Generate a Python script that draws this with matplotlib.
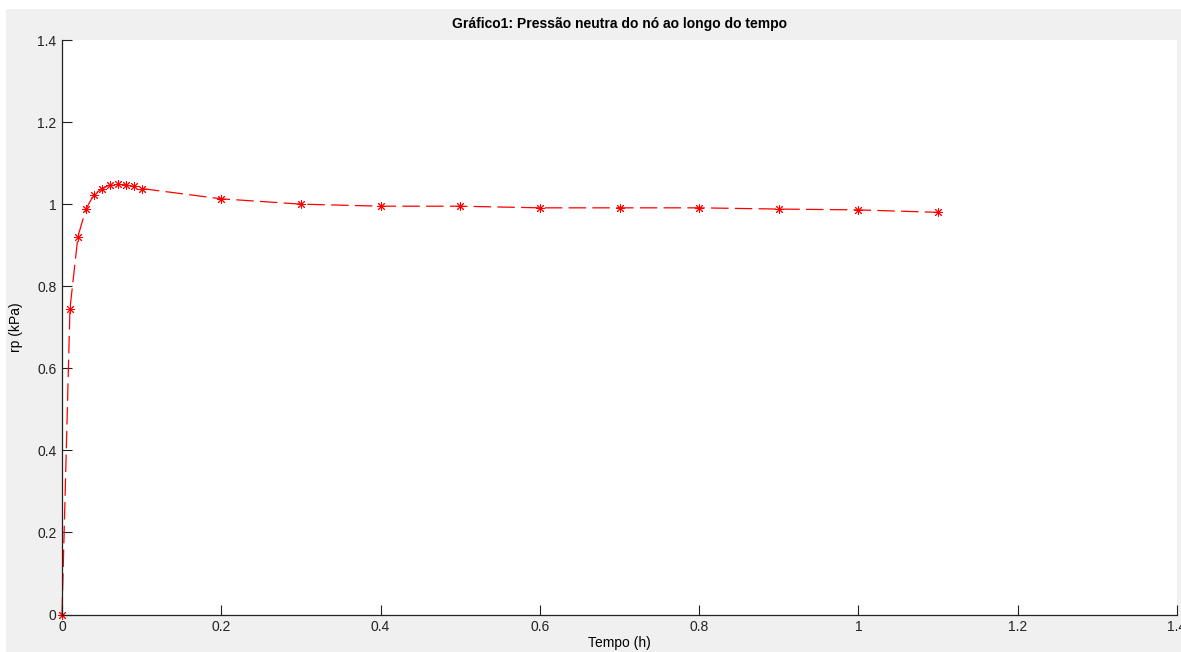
import matplotlib
matplotlib.use('Agg')
import matplotlib.pyplot as plt
from matplotlib.patches import Rectangle
from matplotlib.ticker import FuncFormatter

# valores
tempo = [0, 0.01, 0.02, 0.03, 0.04, 0.05, 0.06, 0.07, 0.08, 0.09, 0.1,
         0.2, 0.3, 0.4, 0.5, 0.6, 0.7, 0.8, 0.9, 1.0, 1.1]
rp = [0, 0.745, 0.921, 0.988, 1.023, 1.038, 1.047, 1.048, 1.047, 1.043, 1.038,
      1.013, 1.0, 0.995, 0.995, 0.991, 0.991, 0.991, 0.988, 0.986, 0.980]
xticks = [0, 0.2, 0.4, 0.6, 0.8, 1.0, 1.2, 1.4]
yticks = [0, 0.2, 0.4, 0.6, 0.8, 1.0, 1.2, 1.4]

plt.rcParams['font.family'] = ['Liberation Sans', 'DejaVu Sans']

W, H = 1181, 652
fig = plt.figure(figsize=(W / 100, H / 100), dpi=100, facecolor='white')
fig.patches.append(Rectangle((6 / W, 0), 1 - 6 / W, (H - 9) / H,
                             transform=fig.transFigure, facecolor='#f0f0f0',
                             edgecolor='none', zorder=-10))

ax = fig.add_axes([62 / W, (H - 614.5) / H, 1115 / W, 574.5 / H])
ax.set_facecolor('white')

line, = ax.plot(tempo, rp, color='red', lw=0.9, marker=(8, 2, 0), ms=6.5,
                mew=0.7, clip_on=False)
line.set_dashes([14, 5])

ax.set_xlim(0, 1.4)
ax.set_ylim(0, 1.4)
ax.set_xticks(xticks)
ax.set_yticks(yticks)
fmt = FuncFormatter(lambda v, p: '%g' % round(v, 2))
ax.xaxis.set_major_formatter(fmt)
ax.yaxis.set_major_formatter(fmt)
ax.tick_params(direction='in', length=7, width=0.8, labelsize=10,
               colors='#222222', pad=4)
ax.spines['top'].set_visible(False)
ax.spines['right'].set_visible(False)
for s in ('left', 'bottom'):
    ax.spines[s].set_linewidth(0.9)
    ax.spines[s].set_color('#222222')

ax.set_title('Gráfico1: Pressão neutra do nó ao longo do tempo',
             fontsize=10, fontweight='bold', pad=9)
ax.set_xlabel('Tempo (h)', fontsize=10, labelpad=1.5)
ax.set_ylabel('rp (kPa)', fontsize=10, labelpad=10)

fig.savefig('out.png', dpi=100, facecolor=fig.get_facecolor())
